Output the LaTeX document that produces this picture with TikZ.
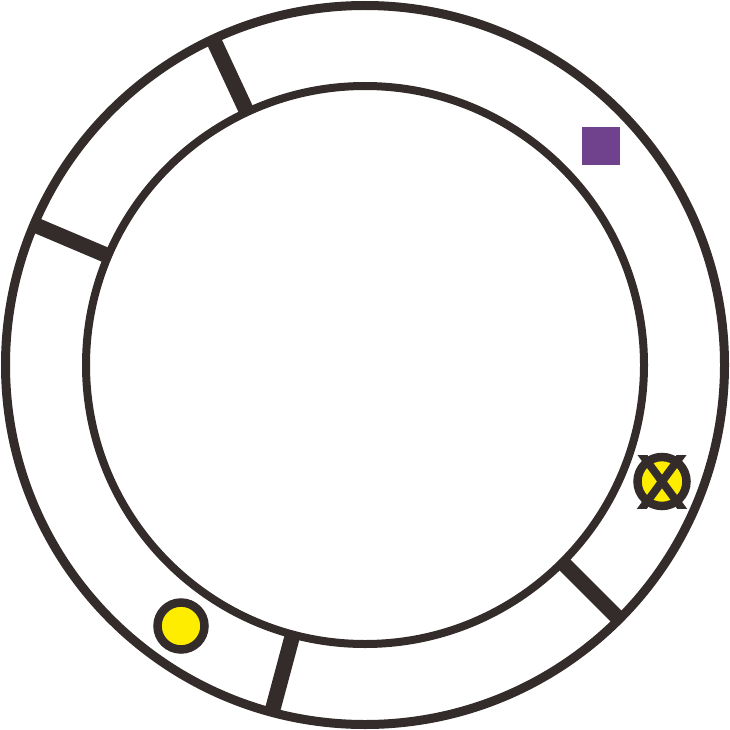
\documentclass[tikz,border=0pt]{standalone}
\usetikzlibrary{calc}
\definecolor{ink}{RGB}{51,44,42}
\definecolor{ylw}{RGB}{255,237,0}
\definecolor{prp}{RGB}{112,65,140}
\tikzset{
  ring/.style={draw=ink, line width=#1},
  tickbar/.style={draw=ink, line width=15.5pt},
  token/.style={draw=ink, fill=ylw, line width=8.5pt},
}
\begin{document}
\begin{tikzpicture}[x=1pt,y=-1pt]
\useasboundingbox (0,0) rectangle (729,730);
\coordinate (c) at (365,365);
\path[ring=9pt] (c) circle[radius=359.5pt];
\path[ring=8pt] (c) circle[radius=279pt];
\foreach \a in {115,157,-45,-105}{
  \path[tickbar] ($(c)+(\a:279pt)$) -- ($(c)+(\a:359.5pt)$);
}
\coordinate (y1) at (181,626);
\path[token] (y1) circle[radius=23.5pt];
\coordinate (y2) at (662,481.5);
\path[token] (y2) circle[radius=24.5pt];
\begin{scope}
  \clip (620,455) rectangle (705,508);
  \draw[ink, line width=8pt] (638,449) -- (686,514) (686,449) -- (638,514);
\end{scope}
\fill[prp] (582,127) rectangle (620,165);
\end{tikzpicture}
\end{document}
